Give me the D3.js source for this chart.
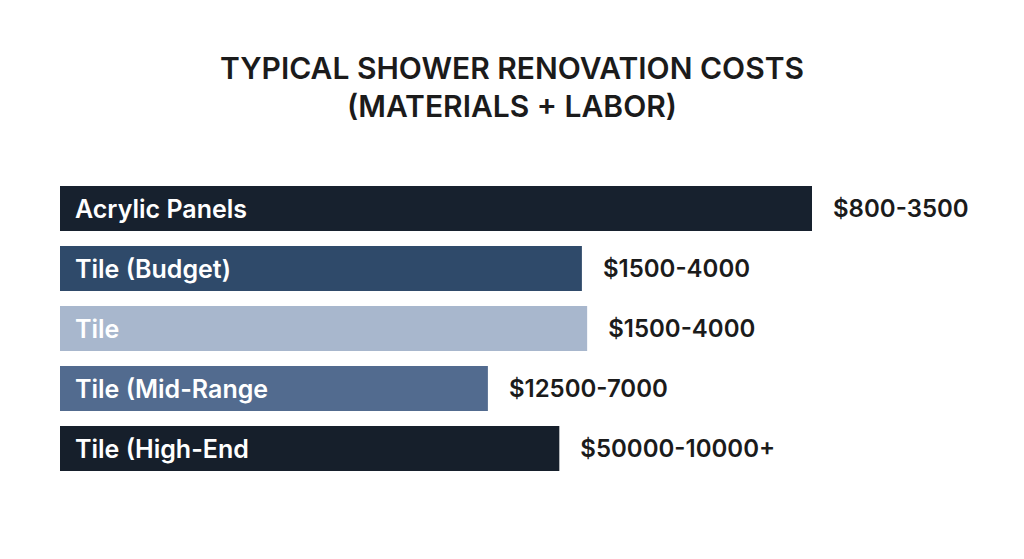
<!DOCTYPE html>
<html>
<head>
<meta charset="utf-8">
<script src="https://cdn.jsdelivr.net/npm/d3@7"></script>
<style>
  body { margin: 0; background: #fff; }
  svg { display: block; font-family: Inter, "Noto Sans", sans-serif; }
</style>
</head>
<body>
<div id="chart"></div>
<script>
'use strict';

const titleLines = ['TYPICAL SHOWER RENOVATION COSTS', '(MATERIALS + LABOR)'];
const categories = ['Acrylic Panels', 'Tile (Budget)', 'Tile', 'Tile (Mid-Range', 'Tile (High-End'];
const costLabels = ['$800-3500', '$1500-4000', '$1500-4000', '$12500-7000', '$50000-10000+'];
// bar length as drawn, relative to the longest bar (=100)
const barLengths = [100, 69.4, 70.1, 56.9, 66.4];
const barColors = ['#17212e', '#2f4a6a', '#a8b7cd', '#526b8f', '#161f2b'];

const width = 1024, height = 559;
const margin = {top: 186, right: 212, bottom: 88, left: 60};

const svg = d3.select('#chart').append('svg')
    .attr('width', width)
    .attr('height', height);

svg.append('g')
    .attr('class', 'title')
  .selectAll('text')
  .data(titleLines)
  .enter().append('text')
    .attr('x', width / 2)
    .attr('y', (d, i) => 79 + i * 38)
    .attr('text-anchor', 'middle')
    .attr('font-size', 30)
    .attr('font-weight', 600)
    .attr('fill', '#1b1b1b')
    .text(d => d);

const x = d3.scaleLinear()
    .domain([0, 100])
    .range([margin.left, width - margin.right]);

const y = d3.scaleBand()
    .domain(categories)
    .range([margin.top, margin.top + 285])
    .paddingInner(0.25);

const rows = svg.selectAll('.row')
    .data(categories)
  .enter().append('g')
    .attr('class', 'row');

rows.append('rect')
    .attr('x', x(0))
    .attr('y', d => y(d))
    .attr('width', (d, i) => x(barLengths[i]) - x(0))
    .attr('height', y.bandwidth())
    .attr('fill', (d, i) => barColors[i]);

rows.append('text')
    .attr('x', x(0) + 15)
    .attr('y', d => y(d) + y.bandwidth() / 2)
    .attr('dy', '0.36em')
    .attr('font-size', 25)
    .attr('font-weight', 600)
    .attr('fill', '#fff')
    .text(d => d);

rows.append('text')
    .attr('x', (d, i) => x(barLengths[i]) + 21)
    .attr('y', d => y(d) + y.bandwidth() / 2)
    .attr('dy', '0.36em')
    .attr('font-size', 24)
    .attr('font-weight', 600)
    .attr('fill', '#1b1b1b')
    .text((d, i) => costLabels[i]);
</script>
</body>
</html>
